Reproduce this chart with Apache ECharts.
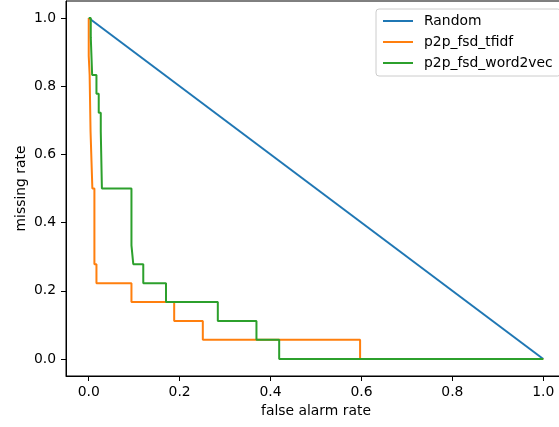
<!DOCTYPE html>
<html>
<head>
<meta charset="utf-8">
<script src="https://cdn.jsdelivr.net/npm/echarts@6/dist/echarts.min.js"></script>
<style>html,body{margin:0;padding:0;background:#fff}#c{width:559px;height:427px}</style>
</head>
<body>
<div id="c"></div>
<script>
// ---- data ----
var seriesNames = ['Random', 'p2p_fsd_tfidf', 'p2p_fsd_word2vec'];
var tickValues = [0, 0.2, 0.4, 0.6, 0.8, 1.0];
var randomX = [0, 1];
var randomY = [1, 0];
var tfidfX = [0, 0, 0.002, 0.002, 0.004, 0.004, 0.008, 0.008, 0.0125, 0.0125, 0.017, 0.017, 0.094, 0.094, 0.188, 0.188, 0.251, 0.251, 0.597, 0.597, 1.0];
var tfidfY = [1, 0.889, 0.889, 0.833, 0.833, 0.667, 0.667, 0.5, 0.5, 0.278, 0.278, 0.222, 0.222, 0.167, 0.167, 0.111, 0.111, 0.056, 0.056, 0, 0];
var w2vX = [0, 0.0045, 0.0045, 0.0075, 0.0075, 0.017, 0.017, 0.022, 0.022, 0.0265, 0.0265, 0.029, 0.029, 0.094, 0.094, 0.098, 0.098, 0.120, 0.120, 0.170, 0.170, 0.284, 0.284, 0.369, 0.369, 0.419, 0.419, 1.0];
var w2vY = [1, 1, 0.944, 0.944, 0.833, 0.833, 0.778, 0.778, 0.722, 0.722, 0.667, 0.667, 0.5, 0.5, 0.333, 0.333, 0.278, 0.278, 0.222, 0.222, 0.167, 0.167, 0.111, 0.111, 0.056, 0.056, 0, 0];
var colors = ['#1f77b4', '#ff7f0e', '#2ca02c'];

function pairs(xs, ys) { return xs.map(function (x, i) { return [x, ys[i]]; }); }

var FONT = 'DejaVu Sans';
var FS = 13.9;

function axisCommon(name) {
  return {
    type: 'value',
    min: -0.05,
    max: 1.05,
    name: name,
    nameLocation: 'middle',
    nameTextStyle: { fontFamily: FONT, fontSize: FS, color: '#000' },
    axisLine: { show: true, onZero: false, lineStyle: { color: '#000', width: 1 } },
    axisTick: { show: true, inside: false, length: 5, lineStyle: { color: '#000', width: 1 }, customValues: tickValues },
    axisLabel: { fontFamily: FONT, fontSize: FS, color: '#000', customValues: tickValues, hideOverlap: false,
      formatter: function (v) { return v.toFixed(1); } },
    splitLine: { show: false }
  };
}

var xAxis = axisCommon('false alarm rate');
xAxis.nameGap = 28;
xAxis.axisLabel.margin = 9;
var yAxis = axisCommon('missing rate');
yAxis.nameGap = 38;
yAxis.nameMoveOverlap = false;
yAxis.axisLabel.margin = 10;

var allData = [pairs(randomX, randomY), pairs(tfidfX, tfidfY), pairs(w2vX, w2vY)];
var lineIcon = 'path://M0,0L30,0L30,2L0,2Z';

var chart = echarts.init(document.getElementById('c'), null, { renderer: 'canvas' });
chart.setOption({
  animation: false,
  backgroundColor: '#fff',
  grid: { left: 66, top: 1, width: 500, height: 375, show: true, borderColor: '#000', borderWidth: 1,
    backgroundColor: 'transparent', containLabel: false, outerBoundsMode: 'none' },
  xAxis: xAxis,
  yAxis: yAxis,
  legend: {
    orient: 'vertical',
    left: 376,
    top: 9,
    padding: [5, 8, 6, 7],
    itemWidth: 30,
    itemHeight: 14,
    itemGap: 7,
    symbolKeepAspect: true,
    borderColor: '#cccccc',
    borderWidth: 1,
    borderRadius: 3,
    backgroundColor: 'rgba(255,255,255,0.8)',
    data: seriesNames.map(function (n) { return { name: n, icon: lineIcon }; }),
    textStyle: { fontFamily: FONT, fontSize: FS, color: '#000', lineHeight: 14, padding: [0, 0, 0, 6] }
  },
  series: seriesNames.map(function (n, i) {
    return {
      name: n,
      type: 'line',
      data: allData[i],
      symbol: 'none',
      showSymbol: false,
      color: colors[i],
      itemStyle: { color: colors[i] },
      lineStyle: { color: colors[i], width: 2 },
      emphasis: { disabled: true },
      silent: true,
      z: 2 + i
    };
  })
});
</script>
</body>
</html>
